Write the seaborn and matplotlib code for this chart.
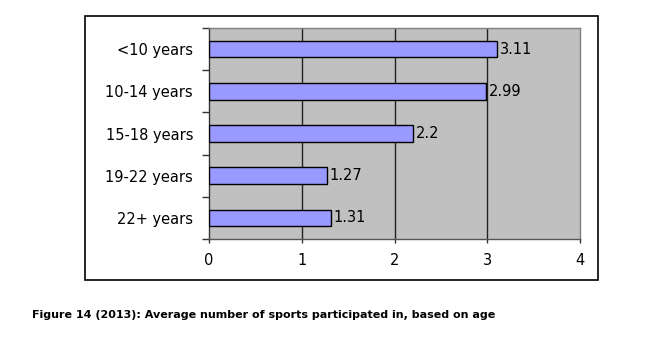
import matplotlib
matplotlib.use("Agg")
import matplotlib.pyplot as plt
import seaborn as sns
import pandas as pd
from matplotlib.patches import Rectangle
from matplotlib.ticker import FixedLocator

categories = ["<10 years", "10-14 years", "15-18 years", "19-22 years", "22+ years"]
values = [3.11, 2.99, 2.2, 1.27, 1.31]
value_labels = ["3.11", "2.99", "2.2", "1.27", "1.31"]
x_ticks = [0, 1, 2, 3, 4]
caption = "Figure 14 (2013): Average number of sports participated in, based on age"

sns.set_style("white")
plt.rcParams["font.family"] = ["DejaVu Sans"]

df = pd.DataFrame({"age": categories, "avg": values})

fig = plt.figure(figsize=(6.64, 3.47), dpi=100)
ax = fig.add_axes([209/664, 1-239/347, (580-209)/664, (239-28)/347])

sns.barplot(data=df, y="age", x="avg", orient="h", ax=ax, color="#9999FF",
            saturation=1, width=0.39, edgecolor="black", linewidth=1.0, zorder=3)

ax.set_facecolor("#C0C0C0")
ax.set_xlim(0, 4)
ax.set_ylim(4.5, -0.5)
ax.set_xticks(x_ticks)
ax.set_xticklabels([str(t) for t in x_ticks], fontsize=10.5, color="black")
ax.set_xlabel("")
ax.set_ylabel("")
for xv in [1, 2, 3]:
    ax.axvline(xv, color="#222222", linewidth=1.0, zorder=1)

ax.set_yticks(range(len(categories)))
ax.set_yticklabels(categories, fontsize=10.5, color="black")
ax.tick_params(axis="y", which="major", length=0, pad=11.5)
ax.yaxis.set_minor_locator(FixedLocator([-0.5, 0.5, 1.5, 2.5, 3.5, 4.5]))
ax.tick_params(axis="y", which="minor", length=5, width=1, color="#333333", left=True)
ax.tick_params(axis="x", which="major", length=3, width=1, color="#333333", bottom=True, pad=7)

for s in ["top", "right"]:
    ax.spines[s].set_color("#808080")
    ax.spines[s].set_linewidth(1)
ax.spines["left"].set_color("#333333")
ax.spines["bottom"].set_color("#555555")
ax.spines["left"].set_linewidth(1)
ax.spines["bottom"].set_linewidth(1)

for i, (v, lab) in enumerate(zip(values, value_labels)):
    ax.text(v + 0.03, i, lab, va="center", ha="left", fontsize=10.5, color="black", zorder=4)

fig.patches.append(Rectangle((85/664, 1-280/347), (598-85)/664, (280-16)/347,
                             transform=fig.transFigure, fill=False,
                             edgecolor="black", linewidth=1.2))

fig.text(32/664, 1-315/347, caption, ha="left", va="center", fontsize=8.0,
         fontweight="bold", color="black", family=["DejaVu Sans"])

fig.savefig("out.png", dpi=100)
